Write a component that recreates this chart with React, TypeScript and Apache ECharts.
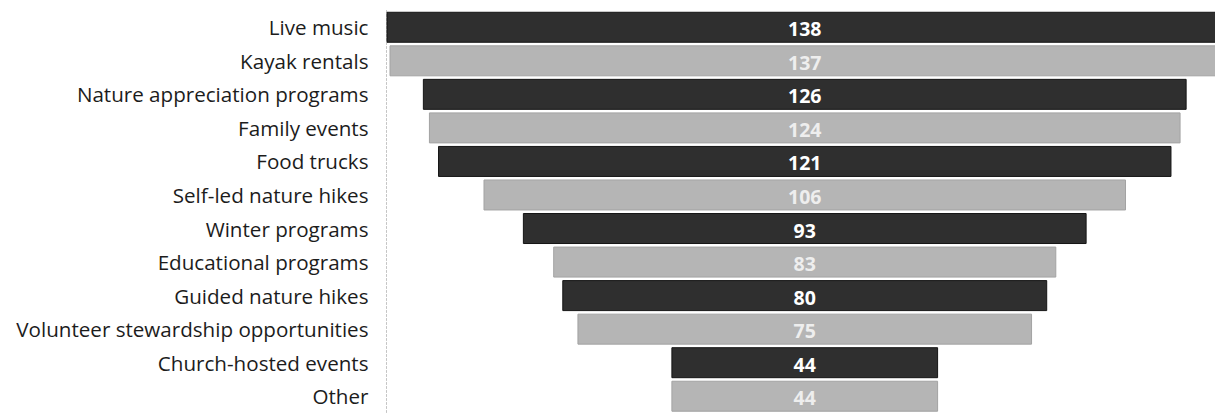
import React, { useEffect, useRef } from "react";
import * as echarts from "echarts";

// Activity preferences, top to bottom
const categories: string[] = [
  "Live music",
  "Kayak rentals",
  "Nature appreciation programs",
  "Family events",
  "Food trucks",
  "Self-led nature hikes",
  "Winter programs",
  "Educational programs",
  "Guided nature hikes",
  "Volunteer stewardship opportunities",
  "Church-hosted events",
  "Other",
];

const responses: number[] = [138, 137, 126, 124, 121, 106, 93, 83, 80, 75, 44, 44];

const DARK = "#2f2f2f";
const LIGHT = "#b5b5b5";
const FONT = "'Open Sans', Lato, sans-serif";

export default function App() {
  const ref = useRef<HTMLDivElement>(null);

  useEffect(() => {
    if (!ref.current) return;
    const chart = echarts.init(ref.current, undefined, { renderer: "svg" });
    const maxVal = Math.max(...responses);
    // transparent spacer so each bar is centred on the widest one
    const spacer = responses.map((v) => (maxVal - v) / 2);

    chart.setOption({
      animation: false,
      grid: { left: 386.5, right: 0, top: 10.5, bottom: -4.3, containLabel: false },
      xAxis: { type: "value", min: 0, max: maxVal, show: false },
      yAxis: {
        type: "category",
        data: categories,
        inverse: true,
        axisTick: { show: false },
        axisLine: { show: true, lineStyle: { color: "#c4c4c4", type: [2, 2], width: 1 } },
        axisLabel: {
          color: "#1c1c1c",
          fontFamily: FONT,
          fontSize: 20.6,
          margin: 18,
          padding: [3, 0, 0, 0],
        },
        splitLine: { show: false },
      },
      series: [
        {
          type: "bar",
          stack: "funnel",
          data: spacer,
          barWidth: 31,
          itemStyle: { color: "transparent" },
          emphasis: { disabled: true },
          silent: true,
        },
        {
          type: "bar",
          stack: "funnel",
          barWidth: 31,
          data: responses.map((v, i) => ({
            value: v,
            itemStyle: {
              color: i % 2 === 0 ? DARK : LIGHT,
              borderColor: i % 2 === 0 ? "#151515" : "#a3a3a3",
              borderWidth: 1,
            },
            label: { color: i % 2 === 0 ? "#ffffff" : "#eeeeee" },
          })),
          label: {
            show: true,
            position: "inside",
            fontFamily: FONT,
            fontSize: 19.5,
            fontWeight: "bold",
            offset: [0, 1.5],
          },
        },
      ],
    });
    return () => chart.dispose();
  }, []);

  // the chart is a little wider than the visible area so the widest bar runs off the right edge
  return (
    <div style={{ position: "fixed", left: 0, top: 0, width: 1215, height: 413, overflow: "hidden", background: "#fff" }}>
      <div ref={ref} style={{ width: 1223, height: 413 }} />
    </div>
  );
}
